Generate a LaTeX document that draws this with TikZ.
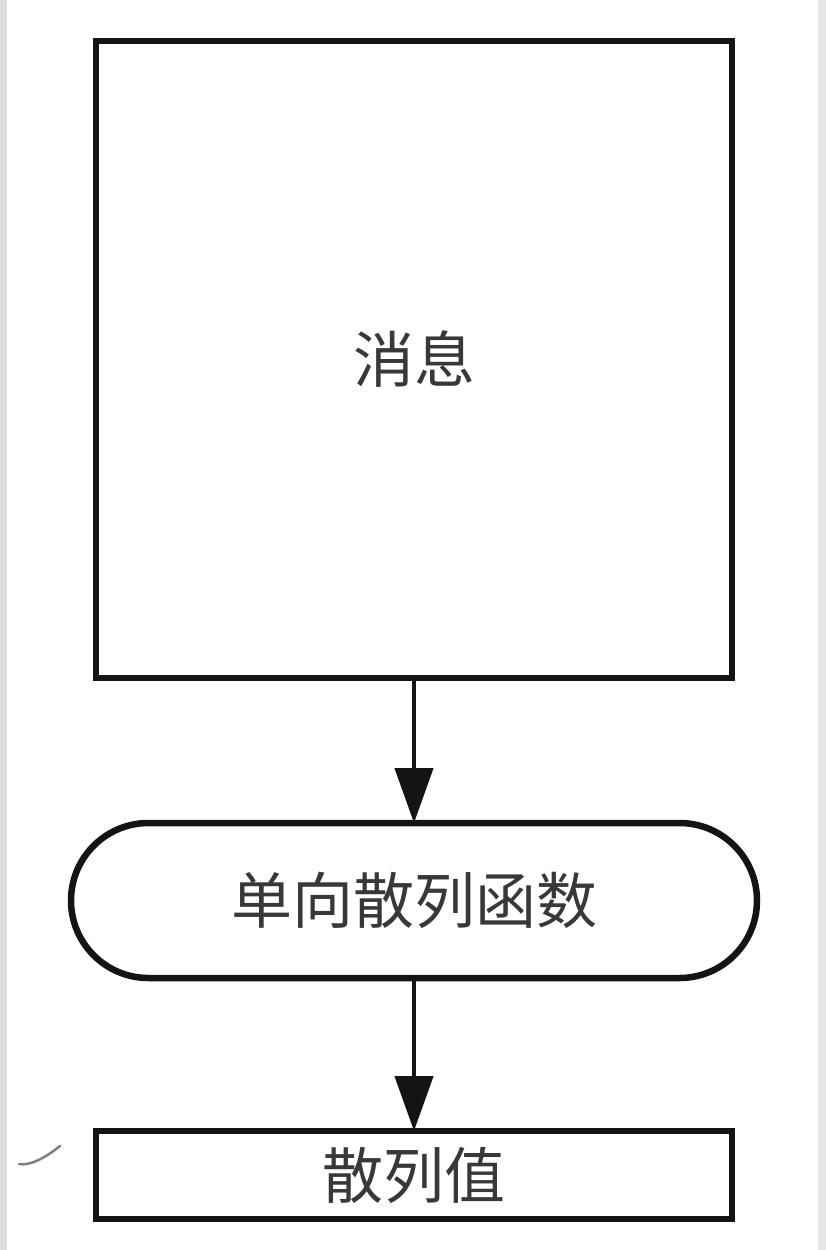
\documentclass[tikz,border=0pt]{standalone}
\usepackage{fontspec}
\newfontfamily\cjk{Noto Sans CJK SC}
\usetikzlibrary{arrows.meta,shapes.misc}
\begin{document}
\begin{tikzpicture}[x=1pt,y=-1pt,
  box/.style={draw=black!92,line width=6.5pt,fill=white,inner sep=0pt,outer sep=0pt,
    font=\cjk\fontsize{61}{72}\selectfont,text=black!78},
  flowarrow/.style={draw=black!92,line width=4.5pt,-{Triangle[width=38pt,length=55pt]}}]
  % page background and grey side strips
  \fill[white] (0,0) rectangle (826,1250);
  \useasboundingbox (0,0) rectangle (826,1250);
  \fill[black!13] (0,0) rectangle (7,1250);
  \fill[black!10] (818,0) rectangle (826,1250);
  % boxes
  \node[box,rectangle,minimum width=636pt,minimum height=637pt] (msg) at (414,359.5) {消息};
  \node[box,rectangle,rounded rectangle,minimum width=686pt,minimum height=155pt] (hash) at (414,900.5) {单向散列函数};
  \node[box,rectangle,minimum width=636pt,minimum height=88pt] (val) at (414,1175) {散列值};
  % arrows
  \draw[flowarrow] (msg.south) -- (hash.north);
  \draw[flowarrow] (hash.south) -- (val.north);
  % small pencil stroke at the left
  \draw[black!50,line width=2.5pt,line cap=round] (19,1164) .. controls (30,1166) and (45,1158) .. (60,1146);
\end{tikzpicture}
\end{document}
